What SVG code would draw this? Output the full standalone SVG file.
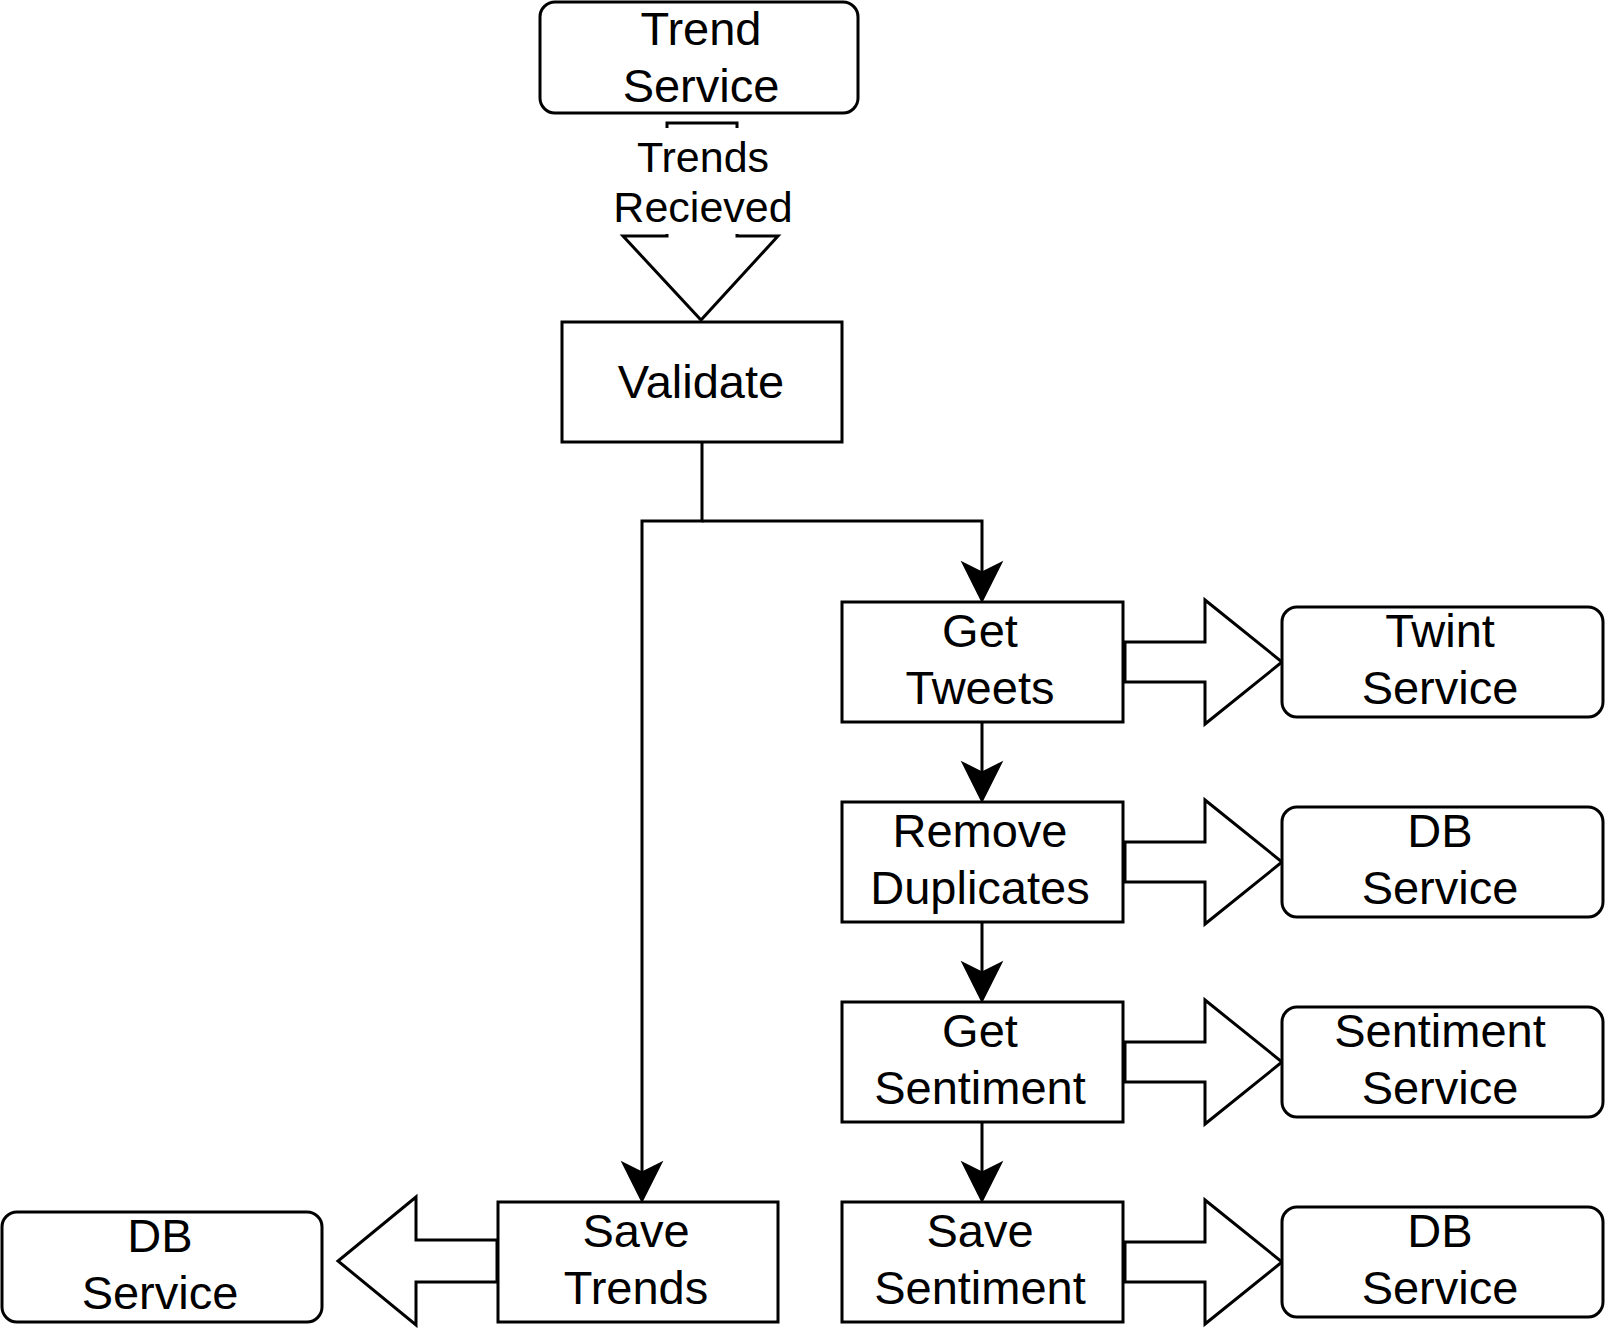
<svg xmlns="http://www.w3.org/2000/svg" width="1608" height="1328" viewBox="0 0 1608 1328">
<style>
  .box{fill:#fff;stroke:#000;stroke-width:3}
  .t{font-family:"Liberation Sans",Arial,Helvetica,sans-serif;font-size:47px;fill:#000;text-anchor:middle}
  .lbl{font-family:"Liberation Sans",Arial,Helvetica,sans-serif;font-size:43px;fill:#000;text-anchor:middle}
  .edge{fill:none;stroke:#000;stroke-width:3}
  .head{fill:#000;stroke:#000;stroke-width:3;stroke-linejoin:miter}
  .fat{fill:#fff;stroke:#000;stroke-width:3;stroke-linejoin:miter}
</style>
<rect width="1608" height="1328" fill="#fff"/>
<g id="connectors">
  <polygon class="fat" points="667,123 737,123 737,236 778,236 701,320 623,236 667,236"/>
  <rect x="612" y="128" width="182" height="106" fill="#fff"/>
  <text class="lbl" x="703" y="172">Trends</text>
  <text class="lbl" x="703" y="222">Recieved</text>
  <path class="edge" d="M702,442 V521 H642 V1175"/>
  <path class="head" d="M642,1200 L624,1164 L642,1173 L660,1164 Z"/>
  <path class="edge" d="M702,521 H982 V575"/>
  <path class="head" d="M982,600 L964,564 L982,573 L1000,564 Z"/>
  <path class="edge" d="M982,722 V775"/>
  <path class="head" d="M982,800 L964,764 L982,773 L1000,764 Z"/>
  <path class="edge" d="M982,922 V975"/>
  <path class="head" d="M982,1000 L964,964 L982,973 L1000,964 Z"/>
  <path class="edge" d="M982,1122 V1175"/>
  <path class="head" d="M982,1200 L964,1164 L982,1173 L1000,1164 Z"/>
  <polygon class="fat" points="1125,642 1205,642 1205,600 1282,662 1205,724 1205,682 1125,682"/>
  <polygon class="fat" points="1125,842 1205,842 1205,800 1282,862 1205,924 1205,882 1125,882"/>
  <polygon class="fat" points="1125,1042 1205,1042 1205,1000 1282,1062 1205,1124 1205,1082 1125,1082"/>
  <polygon class="fat" points="1125,1242 1205,1242 1205,1200 1282,1262 1205,1324 1205,1282 1125,1282"/>
  <polygon class="fat" points="497,1240 416,1240 416,1197 338,1261 416,1325 416,1282 497,1282"/>
</g>
<g id="trend-service">
  <rect class="box" x="540" y="2" width="318" height="111" rx="15" ry="15"/>
  <text class="t" x="701" y="45">Trend</text>
  <text class="t" x="701" y="102">Service</text>
</g>
<g id="validate">
  <rect class="box" x="562" y="322" width="280" height="120"/>
  <text class="t" x="701" y="398">Validate</text>
</g>
<g id="get-tweets">
  <rect class="box" x="842" y="602" width="281" height="120"/>
  <text class="t" x="980" y="647">Get</text>
  <text class="t" x="980" y="704">Tweets</text>
</g>
<g id="remove-duplicates">
  <rect class="box" x="842" y="802" width="281" height="120"/>
  <text class="t" x="980" y="847">Remove</text>
  <text class="t" x="980" y="904">Duplicates</text>
</g>
<g id="get-sentiment">
  <rect class="box" x="842" y="1002" width="281" height="120"/>
  <text class="t" x="980" y="1047">Get</text>
  <text class="t" x="980" y="1104">Sentiment</text>
</g>
<g id="save-sentiment">
  <rect class="box" x="842" y="1202" width="281" height="120"/>
  <text class="t" x="980" y="1247">Save</text>
  <text class="t" x="980" y="1304">Sentiment</text>
</g>
<g id="save-trends">
  <rect class="box" x="498" y="1202" width="280" height="120"/>
  <text class="t" x="636" y="1247">Save</text>
  <text class="t" x="636" y="1304">Trends</text>
</g>
<g id="twint-service">
  <rect class="box" x="1282" y="607" width="321" height="110" rx="15" ry="15"/>
  <text class="t" x="1440" y="647">Twint</text>
  <text class="t" x="1440" y="704">Service</text>
</g>
<g id="db-service-1">
  <rect class="box" x="1282" y="807" width="321" height="110" rx="15" ry="15"/>
  <text class="t" x="1440" y="847">DB</text>
  <text class="t" x="1440" y="904">Service</text>
</g>
<g id="sentiment-service">
  <rect class="box" x="1282" y="1007" width="321" height="110" rx="15" ry="15"/>
  <text class="t" x="1440" y="1047">Sentiment</text>
  <text class="t" x="1440" y="1104">Service</text>
</g>
<g id="db-service-2">
  <rect class="box" x="1282" y="1207" width="321" height="110" rx="15" ry="15"/>
  <text class="t" x="1440" y="1247">DB</text>
  <text class="t" x="1440" y="1304">Service</text>
</g>
<g id="db-service-left">
  <rect class="box" x="2" y="1212" width="320" height="110" rx="15" ry="15"/>
  <text class="t" x="160" y="1252">DB</text>
  <text class="t" x="160" y="1309">Service</text>
</g>
</svg>
